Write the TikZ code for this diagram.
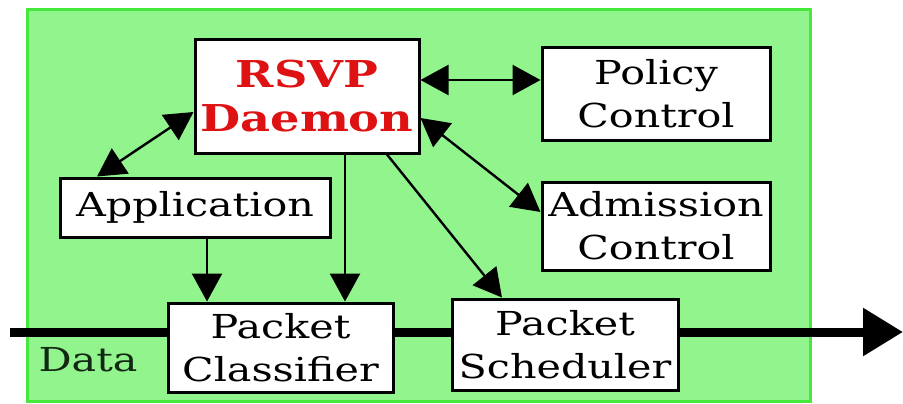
\documentclass[tikz,border=0pt]{standalone}
\usepackage{fontspec}
\setmainfont{DejaVu Serif}[FakeStretch=1.25]
\usetikzlibrary{arrows.meta,calc}
\definecolor{panelfill}{RGB}{146,244,140}
\definecolor{paneledge}{RGB}{70,232,60}
\definecolor{daemonred}{RGB}{222,18,18}
\definecolor{datatext}{RGB}{18,40,18}
\tikzset{
  block/.style={draw=black, line width=3pt, fill=white, inner sep=0pt,
    align=center, font=\fontsize{33}{43}\selectfont},
  link/.style={line width=2.4pt, black},
  dataline/.style={line width=9pt, black},
}
\begin{document}
\begin{tikzpicture}[x=1pt,y=-1pt,
  >={Triangle[length=28pt,width=30pt]}]
  \useasboundingbox (0,0) rectangle (903,404);
  \fill[white] (0,0) rectangle (903,404);
  % host panel
  \draw[fill=panelfill, draw=paneledge, line width=3pt] (27,10) rectangle (810,401);

  % components
  \node[block, minimum width=224pt, minimum height=113pt,
        font=\fontsize{37}{44}\selectfont\bfseries, text=daemonred]
        (rsvp) at (307,96.5) {RSVP\\Daemon};
  \node[block, minimum width=228pt, minimum height=92pt] (policy) at (656,94) {Policy\\Control};
  \node[block, minimum width=228pt, minimum height=88pt] (admission) at (656,226) {Admission\\Control};
  \node[block, minimum width=270pt, minimum height=59pt] (app) at (195,207.5) {Application};
  \node[block, minimum width=225pt, minimum height=89pt] (classifier) at (280.5,347.5) {Packet\\Classifier};
  \node[block, minimum width=226pt, minimum height=91pt] (scheduler) at (565,344.5) {Packet\\Scheduler};

  % data path
  \coordinate (datain) at (10,332);
  \coordinate (dataout) at (903,332);
  \draw[dataline] (datain) -- (datain -| classifier.west);
  \draw[dataline] (datain -| classifier.east) -- (datain -| scheduler.west);
  \draw[dataline, -{Triangle[length=40pt,width=46pt]}] (datain -| scheduler.east) -- (dataout);
  \node[font=\fontsize{33}{40}\selectfont, text=datatext] (data) at (88,360) {Data};

  % control connections
  \coordinate (rsvpdown) at ($(rsvp.south)+(38,0)$);
  \coordinate (appdown) at ($(app.south)+(12,0)$);
  \draw[link, <->] ($(rsvp.east)+(0,-16.5)$) -- ($(policy.west)+(0,-14)$);
  \draw[link, <->] ($(rsvp.east)+(0,21.5)$) -- ($(admission.west)+(0,-14)$);
  \draw[link, <->] ($(rsvp.west)+(0,15.5)$) -- ($(app.north)+(-98,0)$);
  \draw[link, ->] ($(rsvp.south)+(80,0)$) -- ($(scheduler.north)+(-63,0)$);
  \draw[link, ->] (rsvpdown) -- (rsvpdown |- classifier.north);
  \draw[link, ->] (appdown) -- (appdown |- classifier.north);
\end{tikzpicture}
\end{document}
